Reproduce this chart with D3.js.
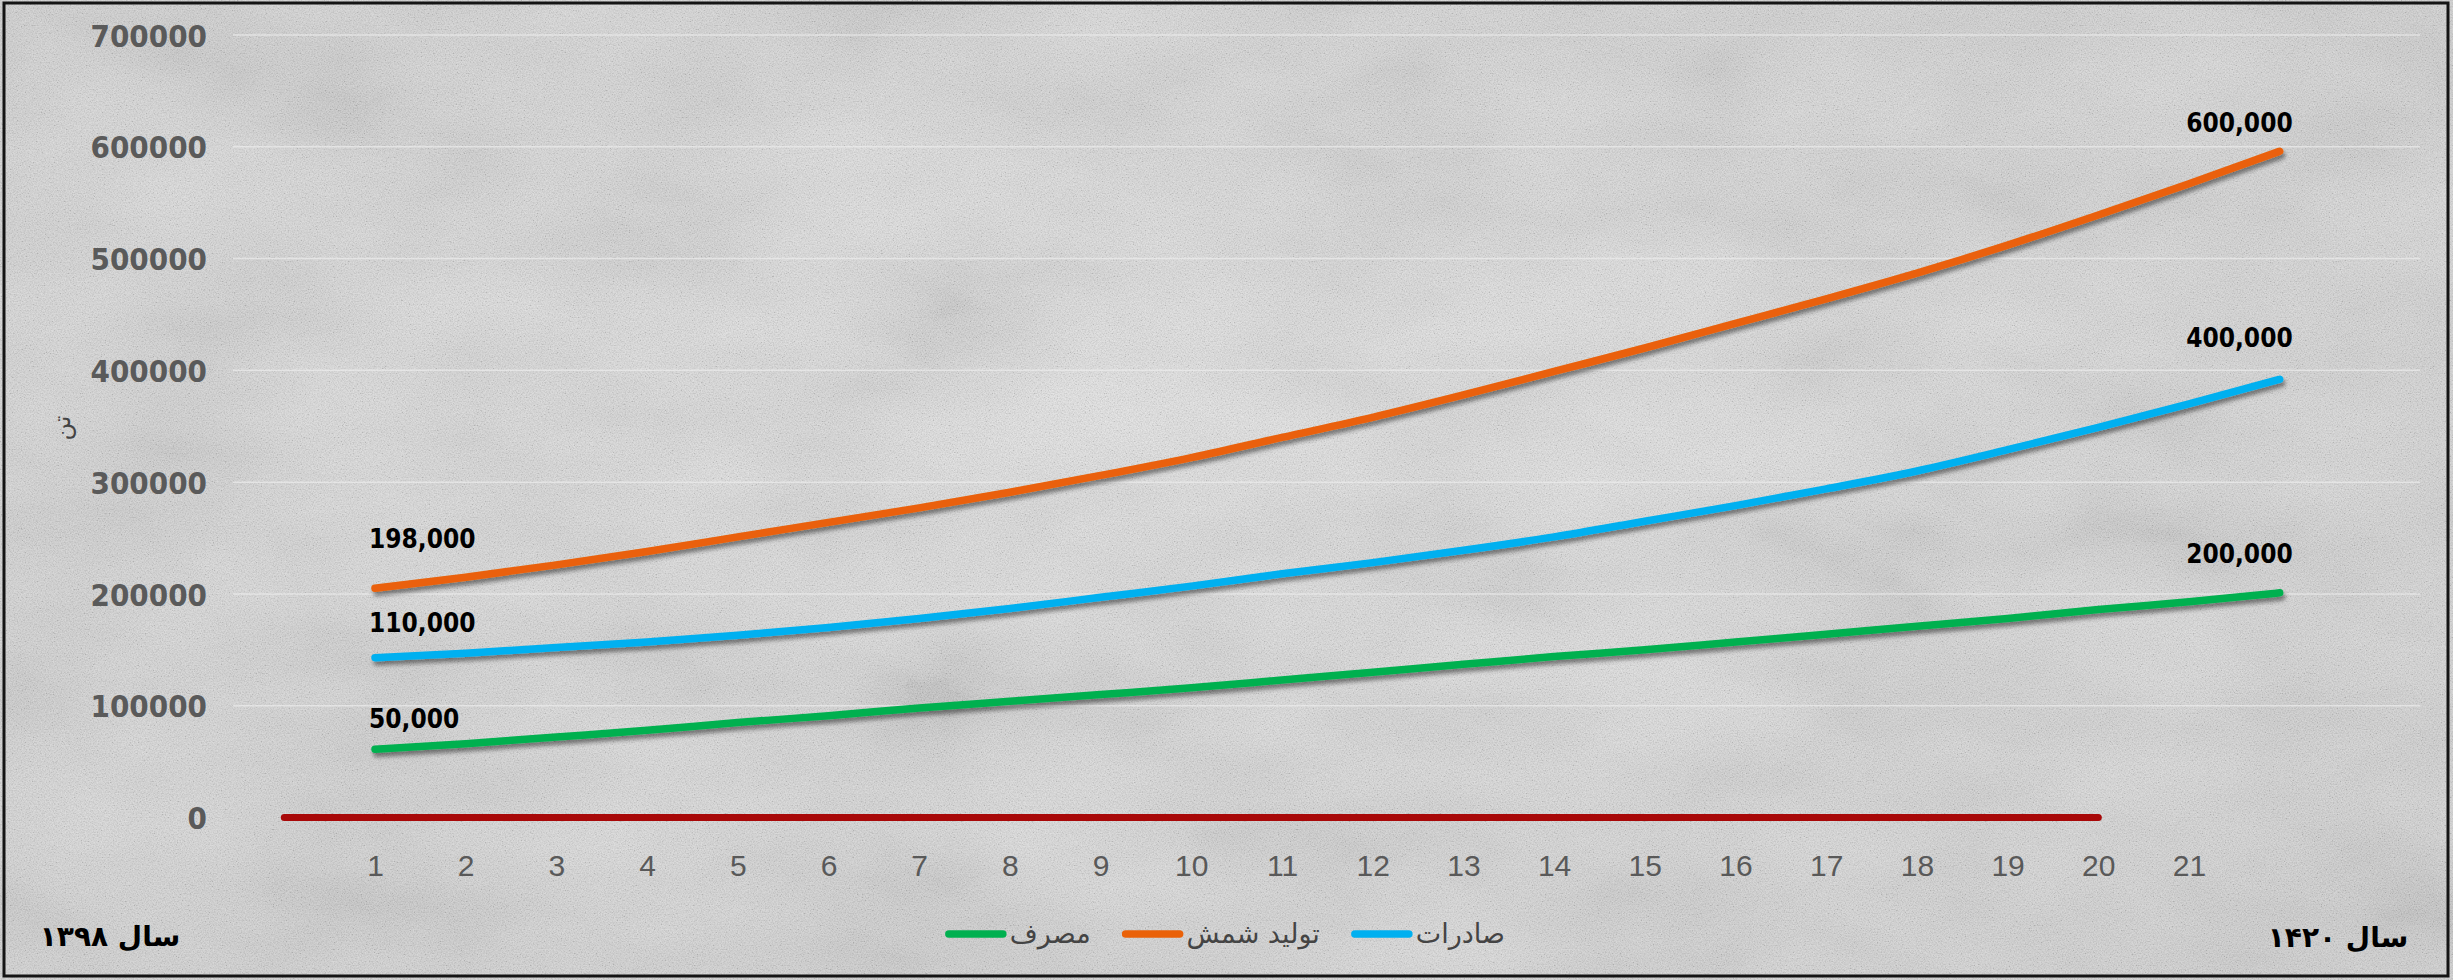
<!DOCTYPE html>
<html>
<head>
<meta charset="utf-8">
<script src="https://cdn.jsdelivr.net/npm/d3@7"></script>
<style>
  html, body { margin: 0; padding: 0; background: #d9d9d9; }
  svg { display: block; }
</style>
</head>
<body>
<svg id="chart" width="2453" height="980"></svg>
<script>
// ---------- DATA ----------
const categories = [1,2,3,4,5,6,7,8,9,10,11,12,13,14,15,16,17,18,19,20,21,22];
const xTickLabels = [1,2,3,4,5,6,7,8,9,10,11,12,13,14,15,16,17,18,19,20,21];
const yTickValues = [0,100000,200000,300000,400000,500000,600000,700000];

const seriesNames = ["صادرات", "تولید شمش", "مصرف"];
const exportsVals = [143000,147000,152000,157000,163000,170000,178000,187000,197000,207000,218000,228000,239000,251000,265000,279000,294000,310000,329000,349000,370000,392000];
const productionVals = [205000,215000,226000,238000,251000,264000,277000,291000,306000,322000,340000,358000,378000,399000,420000,442000,464000,487000,512000,539000,567000,596000];
const consumptionVals = [61000,66000,72000,78000,85000,91000,98000,104000,110000,116000,123000,130000,137000,144000,150000,157000,164000,171000,178000,186000,193000,201000];

const zeroCategories = [0,1,2,3,4,5,6,7,8,9,10,11,12,13,14,15,16,17,18,19,20];
const zeroVals = [0,0,0,0,0,0,0,0,0,0,0,0,0,0,0,0,0,0,0,0,0];

const startLabels = ["110,000", "198,000", "50,000"];
const endLabels = ["400,000", "600,000", "200,000"];

const yAxisTitle = "تن";
const leftNote = "سال ۱۳۹۸";
const rightNote = "سال ۱۴۲۰";

// ---------- STYLE / LAYOUT ----------
const colors = ["#00b0f0", "#ea6108", "#00b050"];
const zeroColor = "#a80808";
const startLabelDy = [-35, -50, -31];
const endLabelDy = [-42, -29, -39];

const W = 2453, H = 980;
const svg = d3.select("#chart");
const defs = svg.append("defs");

// fine speckle texture
const tex = defs.append("filter").attr("id","tex").attr("x",0).attr("y",0).attr("width","100%").attr("height","100%")
  .attr("filterUnits","userSpaceOnUse");
tex.append("feTurbulence").attr("type","fractalNoise").attr("baseFrequency","0.75").attr("numOctaves",2).attr("seed",7).attr("result","n");
tex.append("feColorMatrix").attr("in","n").attr("type","matrix")
  .attr("values","1.6 0 0 0 -0.3  1.6 0 0 0 -0.3  1.6 0 0 0 -0.3  0 0 0 0 1");

// large blotches
const tex2 = defs.append("filter").attr("id","tex2").attr("x",0).attr("y",0).attr("width","100%").attr("height","100%")
  .attr("filterUnits","userSpaceOnUse");
tex2.append("feTurbulence").attr("type","fractalNoise").attr("baseFrequency","0.004 0.008").attr("numOctaves",4).attr("seed",3).attr("result","n");
tex2.append("feColorMatrix").attr("in","n").attr("type","matrix")
  .attr("values","1.4 0 0 0 -0.2  1.4 0 0 0 -0.2  1.4 0 0 0 -0.2  0 0 0 0 1");

const rg = defs.append("radialGradient").attr("id","vign").attr("cx","50%").attr("cy","45%").attr("r","70%");
rg.append("stop").attr("offset","0%").attr("stop-color","#e2e2e2");
rg.append("stop").attr("offset","100%").attr("stop-color","#d2d2d2");

const shadow = defs.append("filter").attr("id","shadow").attr("x","-5%").attr("y","-50%").attr("width","110%").attr("height","200%");
shadow.append("feDropShadow").attr("dx",2).attr("dy",4).attr("stdDeviation",2.2)
  .attr("flood-color","#000").attr("flood-opacity",0.45);

svg.append("rect").attr("width",W).attr("height",H).attr("fill","url(#vign)");
svg.append("rect").attr("width",W).attr("height",H).attr("fill","#fff").attr("opacity",0.10).attr("filter","url(#tex2)");
svg.append("rect").attr("width",W).attr("height",H).attr("fill","#fff").attr("opacity",0.16).attr("filter","url(#tex)");

// frame
svg.append("rect").attr("x",4).attr("y",3).attr("width",2444).attr("height",973)
  .attr("fill","none").attr("stroke","#141414").attr("stroke-width",3);

// scales
const x = d3.scaleLinear().domain([0,22]).range([284.3, 2279.7]);
const y = d3.scaleLinear().domain([0,700000]).range([817.5, 35]);
const gridX0 = 233, gridX1 = 2420;

// gridlines
svg.append("g").selectAll("line").data(yTickValues.slice(1)).join("line")
  .attr("x1",gridX0).attr("x2",gridX1)
  .attr("y1",d=>y(d)).attr("y2",d=>y(d))
  .attr("stroke","#ececec").attr("stroke-opacity",0.7).attr("stroke-width",1.5);

// y axis
const yAxis = d3.axisLeft(y).tickValues(yTickValues).tickSize(0).tickPadding(0).tickFormat(d3.format("d"));
const yG = svg.append("g").attr("transform","translate(207,0)").call(yAxis);
yG.select(".domain").remove();
yG.selectAll("text")
  .attr("font-family","'DejaVu Sans Condensed', 'DejaVu Sans', sans-serif")
  .attr("font-stretch","condensed")
  .attr("font-weight","bold").attr("font-size",31).attr("fill","#5a5a5a")
  .attr("dy","0.36em");

// x axis
const xAxis = d3.axisBottom(x).tickValues(xTickLabels).tickSize(0).tickPadding(0).tickFormat(d3.format("d"));
const xG = svg.append("g").attr("transform","translate(0,865)").call(xAxis);
xG.select(".domain").remove();
xG.selectAll("text")
  .attr("font-family","'Liberation Sans', Arial, sans-serif")
  .attr("font-size",30).attr("fill","#595959").attr("dy","0.36em");

// y title
svg.append("text").attr("transform","translate(63,428) rotate(-90)")
  .attr("text-anchor","middle").attr("dy","0.3em")
  .attr("font-family","'DejaVu Sans', sans-serif").attr("font-size",24).attr("fill","#444")
  .text(yAxisTitle);

// lines
const line = d3.line().x(d=>x(d[0])).y(d=>y(d[1])).curve(d3.curveMonotoneX);

svg.append("path")
  .attr("d", line(zeroCategories.map((c,i)=>[c, zeroVals[i]])))
  .attr("fill","none").attr("stroke",zeroColor).attr("stroke-width",7).attr("stroke-linecap","round");

const allSeries = [exportsVals, productionVals, consumptionVals];
[2,0,1].forEach(si=>{
  svg.append("path")
    .attr("d", line(categories.map((c,i)=>[c, allSeries[si][i]])))
    .attr("fill","none").attr("stroke",colors[si]).attr("stroke-width",7.5)
    .attr("stroke-linecap","round").attr("stroke-linejoin","round")
    .attr("filter","url(#shadow)");
});

// data annotations
const labFont = "'DejaVu Sans Condensed', 'DejaVu Sans', sans-serif";
allSeries.forEach((vals, si)=>{
  svg.append("text")
    .attr("x", x(categories[0]) - 6).attr("y", y(vals[0]) + startLabelDy[si])
    .attr("dy","0.36em").attr("text-anchor","start")
    .attr("font-family",labFont).attr("font-stretch","condensed").attr("font-weight","bold")
    .attr("font-size",26).attr("fill","#000")
    .text(startLabels[si]);
  const last = vals.length - 1;
  svg.append("text")
    .attr("x", x(categories[last]) + 13).attr("y", y(vals[last]) + endLabelDy[si])
    .attr("dy","0.36em").attr("text-anchor","end")
    .attr("font-family",labFont).attr("font-stretch","condensed").attr("font-weight","bold")
    .attr("font-size",26).attr("fill","#000")
    .text(endLabels[si]);
});

// legend (right to left)
const legend = svg.append("g");
let cursor = 1505;
const legY = 934;
seriesNames.forEach((name, si)=>{
  const t = legend.append("text").attr("x",cursor).attr("y",legY).attr("dy","0.32em")
    .attr("text-anchor","end")
    .attr("font-family","'DejaVu Sans', sans-serif").attr("font-size",27).attr("fill","#444")
    .text(name);
  const w = t.node().getComputedTextLength();
  const sx1 = cursor - w - 7, sx0 = sx1 - 54;
  legend.append("line").attr("x1",sx0).attr("x2",sx1).attr("y1",legY).attr("y2",legY)
    .attr("stroke",colors[si]).attr("stroke-width",7.5).attr("stroke-linecap","round");
  cursor = sx0 - 4 - 31;
});

// notes
svg.append("text").attr("x",110).attr("y",937).attr("dy","0.32em").attr("text-anchor","middle")
  .attr("font-family","'DejaVu Sans', sans-serif").attr("font-weight","bold").attr("font-size",28).attr("fill","#000")
  .text(leftNote);
svg.append("text").attr("x",2338).attr("y",938).attr("dy","0.32em").attr("text-anchor","middle")
  .attr("font-family","'DejaVu Sans', sans-serif").attr("font-weight","bold").attr("font-size",28).attr("fill","#000")
  .text(rightNote);
</script>
</body>
</html>
